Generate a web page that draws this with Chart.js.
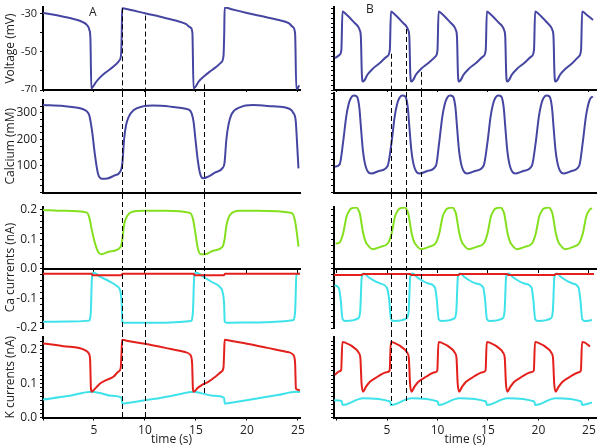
<!DOCTYPE html>
<html>
<head>
<meta charset="utf-8">
<script src="https://cdn.jsdelivr.net/npm/chart.js@4.4.1/dist/chart.umd.min.js"></script>
<style>
  body { margin: 0; background: #fff; }
  #fig { position: relative; width: 600px; height: 448px; font-family: "Open Sans", sans-serif; }
  #fig canvas { position: absolute; }
  .tag { position: absolute; font-size: 12px; color: #222; line-height: 12px; }
</style>
</head>
<body>
<div id="fig">
  <canvas id="vA"></canvas><canvas id="caA"></canvas><canvas id="icaA"></canvas><canvas id="ikA"></canvas>
  <canvas id="vB"></canvas><canvas id="caB"></canvas><canvas id="icaB"></canvas><canvas id="ikB"></canvas>
  <div class="tag" style="left:89px;top:6px">A</div>
  <div class="tag" style="left:366px;top:3px">B</div>
</div>
<script>
// tick labels
const timeTicks = [5, 10, 15, 20, 25];
const vTicks = [-70, -50, -30];
const caTicks = [100, 200, 300];
const iCaTicks = [-0.2, -0.1, 0, 0.1, 0.2];
const iKTicks = [0, 0.1, 0.2];

// --- column A: [time s, value] ---
const voltA = [[0,-29.6],[1.5,-31],[3,-32.8],[3.9,-34.4],[4.35,-36.2],[4.55,-38.5],[4.65,-43],[4.74,-69.2],[4.88,-68.4],[5.2,-65.8],[5.6,-63.4],[6.1,-61],[6.6,-59],[7.1,-56.8],[7.5,-54.4],[7.66,-51],[7.72,-40],[7.76,-27.2],[8.5,-27.9],[10,-29.8],[11.5,-31.6],[13,-33.6],[14.0,-35.4],[14.45,-37.2],[14.65,-40],[14.76,-69.2],[14.9,-68.6],[15.3,-65.4],[15.8,-62.8],[16.4,-60.2],[17.0,-57.8],[17.5,-55.4],[17.7,-52],[17.77,-40],[17.81,-26.8],[18.6,-27.8],[20,-29.6],[21.5,-31.4],[23,-33.2],[24.1,-35],[24.5,-37],[24.72,-40.5],[24.84,-69.4],[25.0,-69],[25.1,-67.5]];
const calcA = [[0,330],[2,326],[3.8,316],[4.3,306],[4.55,290],[4.8,235],[5.1,140],[5.4,70],[5.8,52],[6.3,53],[7.0,64],[7.6,80],[7.78,110],[7.95,200],[8.15,255],[8.4,285],[8.9,311],[9.8,325],[10.8,328],[12.5,324],[14.0,316],[14.45,308],[14.75,270],[14.95,200],[15.15,130],[15.4,72],[15.7,54],[16.2,60],[16.9,76],[17.6,92],[17.8,112],[17.98,200],[18.2,258],[18.5,296],[19.3,321],[20.6,330],[22.5,325],[24.2,315],[24.55,300],[24.78,270],[24.95,160],[25.05,91]];
const caInA = [[0,0.2],[2,0.197],[4.3,0.191],[4.54,0.174],[4.8,0.13],[5.1,0.087],[5.4,0.058],[5.7,0.05],[6.5,0.059],[7.6,0.074],[7.78,0.1],[7.95,0.15],[8.3,0.182],[8.8,0.194],[9.8,0.197],[12,0.197],[14.4,0.19],[14.7,0.17],[14.95,0.12],[15.15,0.075],[15.45,0.05],[15.9,0.05],[16.7,0.062],[17.6,0.075],[17.8,0.1],[18.0,0.15],[18.4,0.186],[19.3,0.197],[21,0.197],[24.4,0.19],[24.7,0.165],[24.9,0.12],[25.05,0.076]];
const caRedA = [[0,-0.016],[4.75,-0.016],[4.85,-0.021],[7.7,-0.021],[7.8,-0.016],[14.75,-0.016],[14.85,-0.021],[17.75,-0.021],[17.85,-0.016],[25.2,-0.016]];
const caCyanA = [[0,-0.179],[2.5,-0.178],[4.5,-0.175],[4.68,-0.15],[4.8,-0.03],[4.95,-0.012],[5.6,-0.026],[6.5,-0.042],[7.2,-0.057],[7.6,-0.078],[7.72,-0.12],[7.78,-0.179],[8.0,-0.182],[11,-0.182],[14.5,-0.176],[14.7,-0.145],[14.82,-0.03],[14.97,-0.012],[15.8,-0.028],[16.6,-0.045],[17.3,-0.06],[17.62,-0.08],[17.76,-0.12],[17.82,-0.179],[18.0,-0.182],[21,-0.181],[24.5,-0.174],[24.72,-0.145],[24.85,-0.02],[25.2,-0.015]];
const kRedA = [[0,0.218],[2,0.21],[4.2,0.197],[4.5,0.188],[4.62,0.17],[4.7,0.085],[4.77,0.076],[5.2,0.088],[5.6,0.1],[6.2,0.11],[6.9,0.12],[7.4,0.135],[7.62,0.146],[7.7,0.19],[7.76,0.229],[8.2,0.226],[10,0.217],[12,0.205],[14.0,0.192],[14.45,0.184],[14.62,0.16],[14.7,0.085],[14.78,0.076],[15.2,0.088],[15.6,0.096],[16.2,0.105],[16.9,0.12],[17.5,0.135],[17.7,0.148],[17.76,0.19],[17.81,0.229],[18.5,0.225],[20,0.217],[22,0.205],[24.1,0.192],[24.55,0.184],[24.72,0.16],[24.8,0.085],[25.0,0.082],[25.2,0.08]];
const kCyanA = [[0,0.053],[2.4,0.063],[4.77,0.076],[5.6,0.072],[6.7,0.064],[7.7,0.058],[7.78,0.041],[8.3,0.043],[11,0.055],[13,0.066],[14.78,0.076],[15.6,0.071],[16.7,0.064],[17.75,0.058],[17.83,0.041],[18.3,0.043],[21,0.056],[23,0.066],[24.85,0.076],[25.2,0.075]];
const dashTA = [7.76, 10, 15.8];
const dashFromA = [-27.2, -31, -67];
const dashToA = [0, 0, 0.069];

// --- column B ---
const voltB = [[-0.15,-53.3],[0.3,-51.6],[0.48,-49],[0.59,-28.8],[0.9,-30],[1.8,-34.9],[2.16,-37],[2.31,-38.8],[2.41,-42],[2.51,-62],[2.61,-65.6],[2.76,-65],[3.06,-62],[3.56,-59],[4.26,-56],[5.01,-52.4],[5.28,-49],
  [5.39,-28.8],[5.7,-30],[6.6,-34.9],[6.96,-37],[7.11,-38.8],[7.21,-42],[7.31,-62],[7.41,-65.6],[7.56,-65],[7.86,-62],[8.36,-59],[9.06,-56],[9.81,-52.4],[10.0,-49],
  [10.11,-28.8],[10.43,-30],[11.33,-34.9],[11.68,-37],[11.83,-38.8],[11.93,-42],[12.03,-62],[12.13,-65.6],[12.28,-65],[12.58,-62],[13.08,-59],[13.78,-56],[14.53,-52.4],[14.78,-49],
  [14.89,-28.8],[15.2,-30],[16.1,-34.9],[16.46,-37],[16.61,-38.8],[16.71,-42],[16.81,-62],[16.91,-65.6],[17.06,-65],[17.36,-62],[17.86,-59],[18.56,-56],[19.31,-52.4],[19.56,-49],
  [19.67,-28.8],[20.0,-30],[20.9,-34.9],[21.24,-37],[21.39,-38.8],[21.49,-42],[21.59,-62],[21.69,-65.6],[21.84,-65],[22.14,-62],[22.64,-59],[23.34,-56],[24.0,-52.4],[24.22,-49],
  [24.33,-28.8],[24.65,-30],[25.4,-33.3]];
const calcB = [[-0.15,97],[0.31,106],[0.64,186],[0.96,286],[1.18,330],[1.41,355],[1.71,366],[2.01,362],[2.26,320],[2.41,250],[2.61,160],[2.91,95],[3.46,72],[4.26,82],[5.06,100],
  [5.44,186],[5.76,286],[5.98,330],[6.21,355],[6.51,366],[6.81,362],[7.06,320],[7.21,250],[7.41,160],[7.71,95],[8.26,72],[9.06,82],[9.86,102],
  [10.16,186],[10.48,286],[10.7,330],[10.93,355],[11.23,366],[11.53,362],[11.78,320],[11.93,250],[12.13,160],[12.43,95],[12.98,72],[13.78,82],[14.58,102],
  [14.94,186],[15.26,286],[15.48,330],[15.71,355],[16.01,366],[16.31,362],[16.56,320],[16.71,250],[16.91,160],[17.21,95],[17.76,72],[18.56,82],[19.36,102],
  [19.72,186],[20.04,286],[20.26,330],[20.49,355],[20.79,366],[21.09,362],[21.34,320],[21.49,250],[21.69,160],[21.99,95],[22.54,72],[23.34,82],[24.05,102],
  [24.38,186],[24.7,286],[24.92,330],[25.15,355],[25.4,362]];
const caInB = [[-0.1,0.086],[0.31,0.09],[0.66,0.121],[0.99,0.177],[1.31,0.2],[1.56,0.206],[1.98,0.208],[2.16,0.2],[2.3,0.189],[2.64,0.121],[2.91,0.09],[3.14,0.079],[3.54,0.067],[4.36,0.075],[5.1,0.088],
  [5.46,0.121],[5.79,0.177],[6.11,0.2],[6.36,0.206],[6.78,0.208],[6.96,0.2],[7.1,0.189],[7.44,0.121],[7.71,0.09],[7.94,0.079],[8.34,0.067],[9.16,0.075],[9.83,0.088],
  [10.18,0.121],[10.51,0.177],[10.83,0.2],[11.08,0.206],[11.5,0.208],[11.68,0.2],[11.82,0.189],[12.16,0.121],[12.43,0.09],[12.66,0.079],[13.06,0.067],[13.88,0.075],[14.61,0.088],
  [14.96,0.121],[15.29,0.177],[15.61,0.2],[15.86,0.206],[16.28,0.208],[16.46,0.2],[16.6,0.189],[16.94,0.121],[17.21,0.09],[17.44,0.079],[17.84,0.067],[18.66,0.075],[19.39,0.088],
  [19.74,0.121],[20.07,0.177],[20.39,0.2],[20.64,0.206],[21.06,0.208],[21.24,0.2],[21.38,0.189],[21.72,0.121],[21.99,0.09],[22.22,0.079],[22.62,0.067],[23.44,0.075],[24.05,0.088],
  [24.4,0.121],[24.73,0.177],[25.05,0.2],[25.3,0.206]];
const caRedB = [[-0.25,-0.02],[2.5,-0.02],[2.6,-0.017],[7.3,-0.017],[7.4,-0.02],[12.1,-0.02],[12.2,-0.017],[16.9,-0.017],[17.0,-0.02],[21.6,-0.02],[21.7,-0.017],[25.5,-0.017]];
const caCyanB = [[-0.2,-0.055],[0.23,-0.065],[0.4,-0.1],[0.6,-0.17],[0.9,-0.176],[2.15,-0.167],[2.35,-0.14],[2.5,-0.026],[2.75,-0.015],[3.14,-0.027],[4.3,-0.049],[4.98,-0.063],
  [5.2,-0.1],[5.4,-0.17],[5.7,-0.176],[6.95,-0.167],[7.15,-0.14],[7.3,-0.026],[7.55,-0.015],[7.94,-0.027],[9.1,-0.049],[9.75,-0.063],
  [9.92,-0.1],[10.12,-0.17],[10.42,-0.176],[11.67,-0.167],[11.87,-0.14],[12.02,-0.026],[12.27,-0.015],[12.66,-0.027],[13.82,-0.049],[14.53,-0.063],
  [14.7,-0.1],[14.9,-0.17],[15.2,-0.176],[16.45,-0.167],[16.65,-0.14],[16.8,-0.026],[17.05,-0.015],[17.44,-0.027],[18.6,-0.049],[19.31,-0.063],
  [19.48,-0.1],[19.68,-0.17],[19.98,-0.176],[21.23,-0.167],[21.43,-0.14],[21.58,-0.026],[21.83,-0.015],[22.22,-0.027],[23.38,-0.049],[23.97,-0.063],
  [24.14,-0.1],[24.34,-0.17],[24.64,-0.176],[25.3,-0.173]];
const kRedB = [[-0.15,0.125],[0.2,0.135],[0.46,0.14],[0.58,0.222],[0.81,0.221],[1.96,0.2],[2.21,0.19],[2.36,0.176],[2.48,0.1],[2.62,0.076],[2.91,0.09],[3.31,0.105],[4.06,0.12],[4.96,0.133],
  [5.26,0.138],[5.38,0.222],[5.61,0.221],[6.76,0.2],[7.01,0.19],[7.16,0.176],[7.28,0.1],[7.42,0.076],[7.71,0.09],[8.11,0.105],[8.86,0.12],[9.76,0.133],
  [9.98,0.138],[10.1,0.222],[10.33,0.221],[11.48,0.2],[11.73,0.19],[11.88,0.176],[12.0,0.1],[12.14,0.076],[12.43,0.09],[12.83,0.105],[13.58,0.12],[14.48,0.133],
  [14.76,0.138],[14.88,0.222],[15.11,0.221],[16.26,0.2],[16.51,0.19],[16.66,0.176],[16.78,0.1],[16.92,0.076],[17.21,0.09],[17.61,0.105],[18.36,0.12],[19.26,0.133],
  [19.54,0.138],[19.66,0.222],[19.89,0.221],[21.04,0.2],[21.29,0.19],[21.44,0.176],[21.56,0.1],[21.7,0.076],[21.99,0.09],[22.39,0.105],[23.14,0.12],[24.0,0.133],
  [24.2,0.138],[24.32,0.222],[24.55,0.221],[25.1,0.209]];
const kCyanB = [[-0.25,0.051],[0.5,0.049],[0.6,0.037],[2.62,0.057],[5.3,0.047],[5.4,0.037],[7.42,0.057],[10.02,0.047],[10.12,0.037],[12.14,0.057],[14.8,0.047],[14.9,0.037],[16.92,0.057],[19.58,0.047],[19.68,0.037],[21.7,0.057],[24.24,0.047],[24.34,0.037],[25.3,0.044]];
const dashTB = [5.36, 6.9, 8.33];
const dashFromB = [-51, -38, -60.5];
const dashToB = [0.037, 0.047, 0.057];

const BLUE = '#4646a2', GREEN = '#84e01e', RED = '#e3201c', CYAN = '#3ee2ea';

Chart.defaults.font.family = '"Open Sans", sans-serif';
Chart.defaults.font.size = 11;
Chart.defaults.color = '#222';

// dashed guide lines, spanning the whole canvas unless a start/end value is given
const vlines = {
  id: 'vlines',
  afterDatasetsDraw(chart, args, o) {
    if (!o.times) return;
    const ctx = chart.ctx, x = chart.scales.x, y = chart.scales.y;
    ctx.save();
    ctx.strokeStyle = '#000';
    ctx.lineWidth = 1;
    ctx.setLineDash([5, 3]);
    o.times.forEach((t, i) => {
      const px = Math.round(x.getPixelForValue(t)) + 0.5;
      const y0 = o.from ? y.getPixelForValue(o.from[i]) : (o.y0 || 0);
      const y1 = o.to ? y.getPixelForValue(o.to[i]) : (o.y1 || chart.height);
      ctx.beginPath();
      ctx.moveTo(px, y0);
      ctx.lineTo(px, y1);
      ctx.stroke();
    });
    ctx.restore();
  }
};

const line = (d, color) => ({
  data: d.map(([x, y]) => ({x, y})),
  borderColor: color, borderWidth: 2, pointRadius: 0, fill: false,
  cubicInterpolationMode: 'monotone'
});

const COL = {
  A: {left: 0, w: 312, padRight: 12, axisW: 43, xMin: 0, xMax: 25.2, labels: true},
  B: {left: 300, w: 300, padRight: 4, axisW: 34, xMin: -0.25, xMax: 25.7, labels: false}
};

const isTick = (arr, v) => arr.some(m => Math.abs(m - v) < 1e-9);

function panel(id, col, p) {
  const c = COL[col];
  const cv = document.getElementById(id);
  cv.width = c.w; cv.height = p.h;
  cv.style.left = c.left + 'px'; cv.style.top = p.top + 'px';
  const bottomAxis = p.xPos === undefined;
  new Chart(cv, {
    type: 'line',
    data: {datasets: p.sets},
    options: {
      responsive: false, animation: false, events: [],
      layout: {padding: {top: p.padTop, bottom: p.padBottom || 0, left: 0, right: c.padRight}},
      plugins: {legend: {display: false}, tooltip: {enabled: false}, vlines: p.vl},
      scales: {
        x: {
          type: 'linear', min: c.xMin, max: c.xMax,
          position: bottomAxis ? 'bottom' : p.xPos,
          afterFit: s => { if (bottomAxis) s.height = p.xH; s.paddingLeft = 0; s.paddingRight = 0; },
          border: {display: true, color: '#000', width: 2},
          grid: {drawOnChartArea: false, drawTicks: true, tickLength: 3, color: '#000'},
          ticks: {display: !!p.xLabels, stepSize: 5, autoSkip: false, maxRotation: 0, padding: 3,
                  includeBounds: false, font: {size: 12},
                  callback: v => isTick(timeTicks, v) ? String(v) : ''},
          title: {display: !!p.xLabels, text: 'time (s)', font: {size: 12}, padding: {top: 0, bottom: 1}}
        },
        y: {
          type: 'linear', min: p.yMin, max: c.labels ? p.yMaxA : p.yMaxB,
          afterFit: s => { s.width = c.axisW; s.paddingTop = 0; s.paddingBottom = 0; },
          border: {display: true, color: '#000', width: 2},
          grid: {drawOnChartArea: false, drawTicks: true, tickLength: 3, color: '#000'},
          ticks: {stepSize: p.step, autoSkip: false, includeBounds: false, padding: 3, font: {size: p.tickSize || 12},
                  callback: v => c.labels && isTick(p.majors, v) ? p.fmt(v) : ''},
          title: {display: c.labels, text: p.title, font: {size: 12}, padding: {top: 3, bottom: 0}}
        }
      }
    },
    plugins: [vlines]
  });
}

const cols = {
  A: {v: voltA, ca: calcA, g: caInA, rc: caRedA, cc: caCyanA, rk: kRedA, ck: kCyanA, t: dashTA, f: dashFromA, e: dashToA, caTop: 8},
  B: {v: voltB, ca: calcB, g: caInB, rc: caRedB, cc: caCyanB, rk: kRedB, ck: kCyanB, t: dashTB, f: dashFromB, e: dashToB, caTop: 1}
};

for (const k of ['A', 'B']) {
  const d = cols[k];
  panel('v' + k, k, {top: 0, h: 92, padTop: 7, xH: 2, yMin: -70, yMaxA: -26.5, yMaxB: -26.5, step: k === 'A' ? 10 : 2.5,
    majors: vTicks, fmt: v => String(v), title: 'Voltage (mV)', tickSize: 11,
    sets: [line(d.v, BLUE)], vl: {times: d.t, from: d.f}});
  panel('ca' + k, k, {top: 92, h: 102, padTop: d.caTop, xH: 1.5, yMin: 0, yMaxA: 349, yMaxB: 375, step: 25,
    majors: caTicks, fmt: v => String(v), title: 'Calcium (mM)',
    sets: [line(d.ca, BLUE)], vl: {times: d.t}});
  panel('ica' + k, k, {top: 194, h: 144, padTop: 13, padBottom: 10, xPos: {y: 0}, yMin: -0.2, yMaxA: 0.21, yMaxB: 0.21, step: 0.02,
    majors: iCaTicks, fmt: v => v.toFixed(1), title: 'Ca currents (nA)',
    sets: [line(d.g, GREEN), line(d.rc, RED), line(d.cc, CYAN)], vl: {times: d.t, y1: 138}});
  panel('ik' + k, k, {top: 332, h: 116, padTop: 5, xH: 30.5, xLabels: true, yMin: 0, yMaxA: 0.237, yMaxB: 0.237, step: 0.0125,
    majors: iKTicks, fmt: v => v.toFixed(1), title: 'K currents (nA)',
    sets: [line(d.rk, RED), line(d.ck, CYAN)], vl: {times: d.t, to: d.e}});
}
</script>
</body>
</html>
